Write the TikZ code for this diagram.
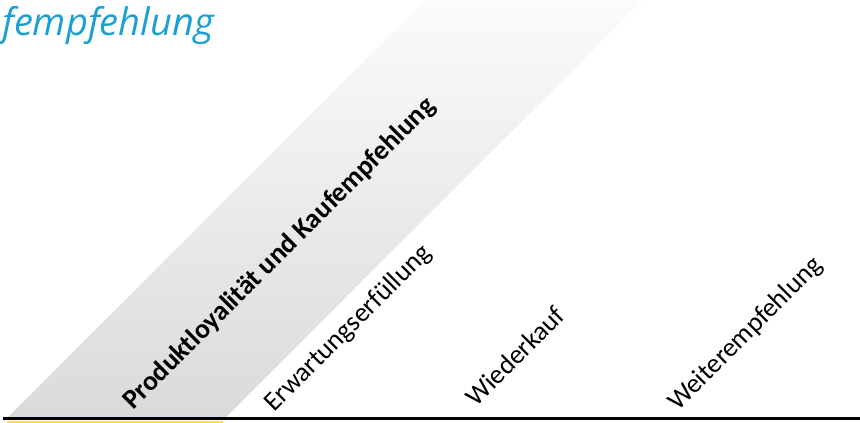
\documentclass[tikz,border=0pt]{standalone}
\usepackage{fontspec}
\setmainfont{Carlito}
\newfontfamily\titlefont{Open Sans}
\definecolor{titlecyan}{RGB}{28,160,210}
\definecolor{bandlow}{RGB}{218,218,218}
\definecolor{bandhigh}{RGB}{251,251,251}
\definecolor{baseyellow}{RGB}{255,215,90}
\tikzset{
  lbl/.style={rotate=45, anchor=base west, inner sep=0pt, font=\fontsize{27}{30}\selectfont},
  boldlbl/.style={lbl, font=\fontsize{27.5}{30}\selectfont\bfseries},
  titletext/.style={anchor=base east, inner sep=0pt, text=titlecyan, font=\titlefont\itshape\fontsize{38}{44}\selectfont}
}
\begin{document}
\begin{tikzpicture}[x=1pt,y=-1pt]
\useasboundingbox (0,0) rectangle (860,423);
\begin{scope}
\clip (0,0) rectangle (860,423);
\shade[top color=bandhigh, bottom color=bandlow] (7,418) -- (225,418) -- (643,0) -- (425,0) -- cycle;
\node[titletext] (title) at (214,35) {fempfehlung};
\draw[baseyellow, line width=3pt] (7,422) coordinate (ya) -- (223,422) coordinate (yb);
\draw[black, line width=3pt] (3,418.5) coordinate (la) -- (860,418.5) coordinate (lb);
\end{scope}
\node[boldlbl] (prod) at (133,411) {Produktloyalität und Kaufempfehlung};
\node[lbl] (erw) at (274,413) {Erwartungserfüllung};
\node[lbl] (wied) at (476,408) {Wiederkauf};
\node[lbl] (weit) at (678,412) {Weiterempfehlung};
\end{tikzpicture}
\end{document}
